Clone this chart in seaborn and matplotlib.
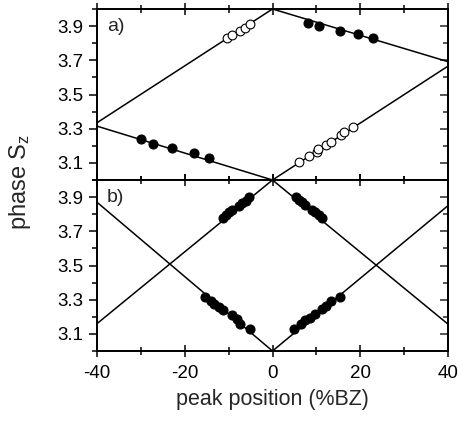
import numpy as np
import pandas as pd
import matplotlib
matplotlib.use("Agg")
import matplotlib.pyplot as plt
import seaborn as sns

# panel a) fitted lines: (x0, y0, x1, y1)
a_lines = [(-40, 3.335, 0, 4.0), (0, 4.0, 40, 3.692),
           (-40, 3.315, 0, 3.0), (0, 3.0, 40, 3.666)]
# panel a) filled points
a_fill_x = [8.0, 10.5, 15.3, 19.5, 22.8, -30.0, -27.2, -22.8, -18.0, -14.4]
a_fill_y = [3.918, 3.898, 3.873, 3.853, 3.828, 3.241, 3.213, 3.186, 3.160, 3.131]
# panel a) open points
a_open_x = [-10.4, -9.3, -7.4, -6.2, -5.2, 6.0, 8.3, 10.1, 10.3, 12.2, 13.3, 15.7, 16.3, 18.3]
a_open_y = [3.829, 3.850, 3.870, 3.889, 3.913, 3.106, 3.138, 3.166, 3.180, 3.203, 3.222,
            3.262, 3.282, 3.310]

# panel b) fitted lines
b_lines = [(-40, 3.87, 0, 3.0), (-40, 3.16, 0, 4.0),
           (0, 3.0, 40, 3.85), (0, 4.0, 40, 3.157)]
# panel b) filled points
b_x = [-11.3, -10.6, -9.9, -9.2, -7.6, -6.9, -6.1, -5.3,
       5.3, 6.0, 6.8, 7.5, 9.1, 9.8, 10.5, 11.2,
       -15.4, -14.1, -13.3, -12.3, -11.3, -9.3, -8.1, -7.3, -5.1,
       5.0, 6.6, 7.4, 8.5, 9.6, 11.3, 12.3, 13.4, 15.3]
b_y = [3.78, 3.795, 3.81, 3.825, 3.85, 3.865, 3.88, 3.9,
       3.9, 3.885, 3.87, 3.855, 3.825, 3.81, 3.795, 3.78,
       3.318, 3.29, 3.275, 3.26, 3.24, 3.21, 3.19, 3.16, 3.13,
       3.13, 3.16, 3.18, 3.195, 3.215, 3.245, 3.265, 3.29, 3.318]

sns.set_theme(style="ticks")
plt.rcParams["font.family"] = ["Liberation Sans", "DejaVu Sans"]
plt.rcParams["axes.unicode_minus"] = False
plt.rcParams["mathtext.fontset"] = "custom"
plt.rcParams["mathtext.rm"] = "Liberation Sans"
plt.rcParams["mathtext.it"] = "Liberation Sans"

fig = plt.figure(figsize=(4.58, 4.24), dpi=100)
left, right = 97 / 458, 448 / 458
ax_a = fig.add_axes([left, 1 - 180 / 424, right - left, 171 / 424])
ax_b = fig.add_axes([left, 1 - 351 / 424, right - left, 171 / 424])


def draw_lines(ax, lines):
    for x0, y0, x1, y1 in lines:
        seg = pd.DataFrame({"x": [x0, x1], "y": [y0, y1]})
        sns.lineplot(data=seg, x="x", y="y", ax=ax, color="black", lw=1.1,
                     estimator=None, sort=False)


draw_lines(ax_a, a_lines)
sns.scatterplot(x=a_fill_x, y=a_fill_y, ax=ax_a, color="black", s=42,
                edgecolor="black", linewidth=0.8, zorder=3)
sns.scatterplot(x=a_open_x, y=a_open_y, ax=ax_a, facecolor="white", s=40,
                edgecolor="black", linewidth=0.8, zorder=3)

draw_lines(ax_b, b_lines)
sns.scatterplot(x=b_x, y=b_y, ax=ax_b, color="black", s=42,
                edgecolor="black", linewidth=0.8, zorder=3)

for ax, lab in [(ax_a, "a)"), (ax_b, "b)")]:
    ax.set_xlim(-40, 40)
    ax.set_ylim(3.0, 4.0)
    ax.set_yticks([3.1, 3.3, 3.5, 3.7, 3.9])
    ax.set_yticks(np.arange(3.0, 4.01, 0.1), minor=True)
    ax.set_xticks([-40, -20, 0, 20, 40])
    ax.set_xticks([-30, -10, 10, 30], minor=True)
    ax.set_xlabel("")
    ax.set_ylabel("")
    for sp in ax.spines.values():
        sp.set_visible(True)
        sp.set_linewidth(1.4)
        sp.set_color("black")
    ax.tick_params(axis="y", which="both", direction="out", labelsize=13.5,
                   colors="black", width=1.1, left=True, right=False)
    ax.tick_params(axis="y", which="major", length=6)
    ax.tick_params(axis="y", which="minor", length=3.5)
    ax.tick_params(axis="x", which="both", direction="inout", labelsize=13.5,
                   colors="black", width=1.1, top=True, bottom=True)
    ax.tick_params(axis="x", which="major", length=8)
    ax.tick_params(axis="x", which="minor", length=6)
    sec = ax.secondary_yaxis("right")
    sec.set_yticks([3.1, 3.3, 3.5, 3.7, 3.9])
    sec.set_yticks(np.arange(3.0, 4.01, 0.1), minor=True)
    sec.tick_params(which="both", direction="in", labelright=False, width=1.1)
    sec.tick_params(which="major", length=6)
    sec.tick_params(which="minor", length=3.5)
    sec.spines["right"].set_linewidth(1.4)
    ax.text(-37.8, 3.895, lab, fontsize=14, va="center", ha="left")

ax_a.tick_params(axis="x", labelbottom=False)
ax_b.tick_params(axis="x", pad=6)

fig.text(20 / 458, 1 - 182 / 424, "phase S$_z$", rotation=90, fontsize=17,
         ha="center", va="center")
fig.text(272 / 458, 1 - 399 / 424, "peak position (%BZ)", fontsize=15.5,
         ha="center", va="center")

fig.savefig("out.png", dpi=100)
